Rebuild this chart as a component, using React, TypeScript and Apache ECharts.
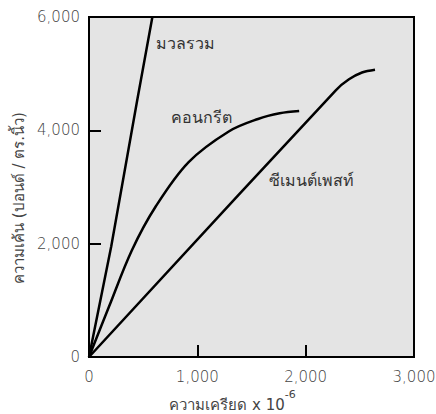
import React, { useEffect, useRef } from "react";
import * as echarts from "echarts";

const xTicks = [0, 1000, 2000, 3000];
const yTicks = [0, 2000, 4000, 6000];

const aggregateData: [number, number][] = [
  [0, 0], [205, 1950], [445, 4530], [585, 6000],
];
const concreteData: [number, number][] = [
  [0, 0], [185, 890], [395, 1880], [617, 2660], [920, 3440],
  [1290, 3980], [1560, 4200], [1760, 4300], [1940, 4340],
];
const cementData: [number, number][] = [
  [0, 0], [2280, 4710], [2400, 4900], [2520, 5020], [2640, 5070],
];

const seriesNames = ["มวลรวม", "คอนกรีต", "ซีเมนต์เพสท์"];
const labelAt: [number, number][] = [
  [620, 5540], [760, 4220], [1660, 3120],
];

const xName = "ความเครียด x 10";
const xNameSup = "-6";
const yName = "ความเค้น (ปอนด์ / ตร.นิ้ว)";

const FONT = "'DejaVu Sans', 'Noto Sans', sans-serif";

export default function App() {
  const ref = useRef<HTMLDivElement>(null);
  useEffect(() => {
    if (!ref.current) return;
    const chart = echarts.init(ref.current, null, { renderer: "svg" });
    const datasets = [aggregateData, concreteData, cementData];
    chart.setOption({
      animation: false,
      grid: {
        left: 89, top: 17, right: 22, bottom: 57,
        outerBoundsMode: "none",
        containLabel: false,
        show: true, backgroundColor: "#e4e4e4", borderColor: "#000", borderWidth: 2,
      },
      xAxis: {
        type: "value", min: xTicks[0], max: xTicks[xTicks.length - 1], interval: 1000,
        axisLine: { show: true, lineStyle: { color: "#000", width: 2 } },
        axisTick: { show: true, inside: true, length: 12, lineStyle: { color: "#000", width: 2 } },
        splitLine: { show: false },
        axisLabel: {
          margin: 12, fontSize: 15, color: "#444", fontFamily: FONT, fontWeight: 300,
          formatter: (v: number) => v.toLocaleString("en-US"),
        },
        name: `{n|${xName}}{s|${xNameSup}}`,
        nameLocation: "middle",
        nameGap: 30,
        nameTextStyle: {
          padding: [0, 38, 0, 0],
          rich: {
            n: { fontSize: 15, color: "#444", fontFamily: FONT, lineHeight: 24, verticalAlign: "bottom" },
            s: { fontSize: 11, color: "#444", fontFamily: FONT, lineHeight: 24, verticalAlign: "top" },
          },
        },
      },
      yAxis: {
        type: "value", min: yTicks[0], max: yTicks[yTicks.length - 1], interval: 2000,
        axisLine: { show: true, lineStyle: { color: "#000", width: 2 } },
        axisTick: { show: true, inside: true, length: 12, lineStyle: { color: "#000", width: 2 } },
        splitLine: { show: false },
        axisLabel: {
          margin: 9, fontSize: 15, color: "#444", fontFamily: FONT, fontWeight: 300,
          formatter: (v: number) => v.toLocaleString("en-US"),
        },
        name: yName,
        nameLocation: "middle",
        nameGap: 62,
        nameRotate: 90,
        nameTextStyle: { fontSize: 15, color: "#444", fontFamily: FONT, padding: [0, 22, 0, 0] },
      },
      series: datasets.map((d, i) => ({
        type: "line",
        name: seriesNames[i],
        data: d,
        smooth: i === 0 ? false : 0.35,
        symbol: "none",
        lineStyle: { color: "#000", width: 2.5 },
        clip: true,
        markPoint: {
          symbol: "circle",
          symbolSize: 0,
          data: [{ coord: labelAt[i], value: seriesNames[i] }],
          label: {
            show: true, position: "right", distance: 0,
            formatter: seriesNames[i],
            fontSize: 16, color: "#333", fontFamily: FONT,
          },
        },
      })),
    });
    return () => chart.dispose();
  }, []);
  return (
    <div
      ref={ref}
      style={{ width: 436, height: 414, position: "absolute", left: 0, top: 0 }}
    />
  );
}
